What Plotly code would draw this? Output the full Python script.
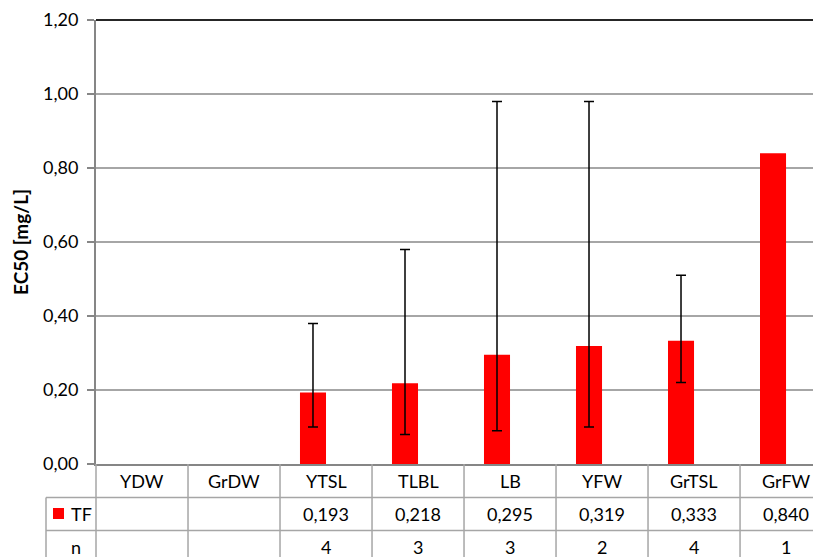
import plotly.graph_objects as go

# data
categories = ["YDW", "GrDW", "YTSL", "TLBL", "LB", "YFW", "GrTSL", "GrFW"]
tf_values = [None, None, 0.193, 0.218, 0.295, 0.319, 0.333, 0.840]
err_upper = [None, None, 0.38, 0.58, 0.98, 0.98, 0.51, None]
err_lower = [None, None, 0.10, 0.08, 0.09, 0.10, 0.22, None]
n_values = ["", "", "4", "3", "3", "2", "4", "1"]
tf_labels = ["" if v is None else f"{v:.3f}".replace(".", ",") for v in tf_values]

plus = [None if (u is None or v is None) else u - v for u, v in zip(err_upper, tf_values)]
minus = [None if (l is None or v is None) else v - l for l, v in zip(err_lower, tf_values)]
# bars with / without an error bar
y_err = [v if u is not None else None for v, u in zip(tf_values, err_upper)]
y_noerr = [v if u is None else None for v, u in zip(tf_values, err_upper)]

FONT = "Lato, sans-serif"
GRID = "#a6a6a6"
AXIS = "#868686"

# screen geometry (page body has an 8px margin, so the figure sits at 8,8)
OFF = 8
L, T, B, R = 96, 20, 464, 821
PH = B - T
PW = R - L


def py(p):  # screen pixel y -> paper y
    return (B - p) / PH


def px(p):  # screen pixel x -> paper x
    return (p - L) / PW


row_lines = [497.5, 530.5]
row_mid = [481, 514, 547]

fig = go.Figure()
fig.add_trace(go.Bar(
    x=categories, y=y_err, name="TF",
    marker=dict(color="#ff0000", line=dict(width=0)),
    width=0.283, offset=-0.283,
    error_y=dict(type="data", symmetric=False, array=plus, arrayminus=minus,
                 color="#000000", thickness=1.5, width=5),
))
fig.add_trace(go.Bar(
    x=categories, y=y_noerr, name="TF",
    marker=dict(color="#ff0000", line=dict(width=0)),
    width=0.283, offset=-0.283,
))

shapes = []
# top border of plot area
shapes.append(dict(type="line", xref="paper", yref="paper", x0=0, x1=1, y0=1, y1=1,
                   line=dict(color="#262626", width=2)))
# vertical table lines at category boundaries
for i in range(1, len(categories) + 1):
    shapes.append(dict(type="line", xref="x", yref="paper", x0=i - 0.5, x1=i - 0.5,
                       y0=0, y1=py(570), line=dict(color=GRID, width=1.5)))
# y axis continuation down through the table
shapes.append(dict(type="line", xref="paper", yref="paper", x0=0, x1=0, y0=0, y1=py(570),
                   line=dict(color=GRID, width=1.5)))
# left legend column border
shapes.append(dict(type="line", xref="paper", yref="paper", x0=px(46), x1=px(46),
                   y0=py(row_lines[0]), y1=py(570), line=dict(color=GRID, width=1.5)))
# horizontal row lines
for r in row_lines:
    shapes.append(dict(type="line", xref="paper", yref="paper", x0=px(46), x1=1.02,
                       y0=py(r), y1=py(r), line=dict(color=GRID, width=1.5)))
# legend key
shapes.append(dict(type="rect", xref="paper", yref="paper", x0=px(53), x1=px(64),
                   y0=py(519), y1=py(508), fillcolor="#ff0000", line=dict(width=0)))

txt = dict(size=18, color="#000000")
cell = dict(showarrow=False, font=txt, xanchor="center", yanchor="middle")
annotations = []
for c, t, n in zip(categories, tf_labels, n_values):
    annotations.append(dict(x=c, y=py(row_mid[0]), xref="x", yref="paper", text=c, **cell))
    annotations.append(dict(x=c, y=py(row_mid[1]), xref="x", yref="paper", text=t, **cell))
    annotations.append(dict(x=c, y=py(row_mid[2]), xref="x", yref="paper", text=n, **cell))
annotations.append(dict(x=px(69), y=py(row_mid[1]), xref="paper", yref="paper", text="TF",
                        xanchor="left", yanchor="middle", showarrow=False, font=txt))
annotations.append(dict(x=px(76), y=py(row_mid[2]), xref="paper", yref="paper", text="n", **cell))
annotations.append(dict(x=px(20), y=py(242), xref="paper", yref="paper", text="<b>EC50 [mg/L]</b>",
                        textangle=-90, showarrow=False, xanchor="center", yanchor="middle",
                        font=dict(size=19, color="#000000")))

fig.update_layout(
    width=821, height=557,
    margin=dict(l=L - OFF, r=821 - (R - OFF), t=T - OFF, b=557 - (B - OFF)),
    paper_bgcolor="white", plot_bgcolor="white",
    font=dict(family=FONT, size=18, color="#000000"),
    separators=", ",
    showlegend=False,
    barmode="overlay",
    shapes=shapes,
    annotations=annotations,
    xaxis=dict(range=[-0.5, 7.38], showticklabels=False, showgrid=False, automargin=False,
               showline=True, linecolor=AXIS, linewidth=2, ticks="", fixedrange=True),
    yaxis=dict(range=[0, 1.2], dtick=0.2, tickformat=".2f", showgrid=True, automargin=False,
               gridcolor=GRID, gridwidth=1.5, showline=True, linecolor=AXIS, linewidth=2,
               ticks="outside", ticklen=7, tickcolor=AXIS, tickwidth=1.5,
               ticklabelstandoff=5, zeroline=False, tickfont=dict(size=18)),
)

fig.write_html("out.html")
